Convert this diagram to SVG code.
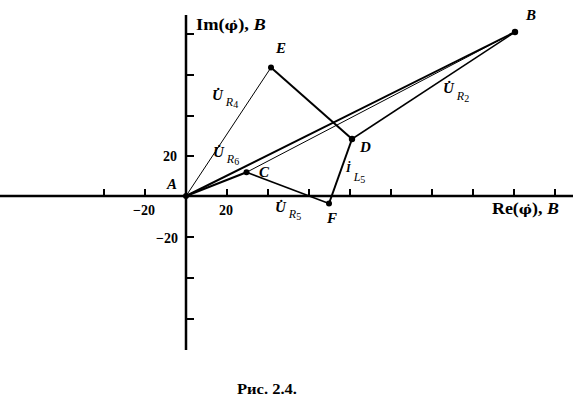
<svg xmlns="http://www.w3.org/2000/svg" width="573" height="412" viewBox="0 0 573 412">
<style>
.t{font-family:"Liberation Serif","Times New Roman",serif;font-weight:bold;fill:#000}
.i{font-style:italic}
.sub{font-size:12px;font-style:italic;font-weight:normal}
.phi{font-family:"DejaVu Serif",serif;font-size:13px}
.ax{stroke:#000;stroke-width:2.5;fill:none}
.tk{stroke:#000;stroke-width:2;fill:none}
.thick{stroke:#000;stroke-width:2;fill:none}
.mid{stroke:#000;stroke-width:1.5;fill:none}
.thin{stroke:#000;stroke-width:1;fill:none}
.dot{fill:#000}
</style>
<rect width="573" height="412" fill="#fff"/>
<g id="axes">
<line class="ax" x1="0" y1="196" x2="573" y2="196"/>
<line class="ax" x1="186" y1="15" x2="186" y2="350"/>
<path class="tk" d="M104 196V189M145 196V189M227 196V189M268 196V189M309 196V189M350 196V189M391 196V189M432 196V189M473 196V189M514 196V189M555 196V189"/>
<path class="tk" d="M186 34H194M186 75H194M186 116H194M186 156H194M186 237H194M186 278H194M186 319H194"/>
<text class="t" transform="translate(196,30) scale(1.15,1)" x="0" y="0" font-size="16">Im(<tspan class="phi">φ̇</tspan>), <tspan class="i">B</tspan></text>
<text class="t" transform="translate(492,214) scale(1.12,1)" x="0" y="0" font-size="16">Re(<tspan class="phi">φ̇</tspan>), <tspan class="i">B</tspan></text>
<text class="t" x="177" y="161" font-size="14" text-anchor="end">20</text>
<text class="t" x="178" y="243" font-size="14" text-anchor="end">−20</text>
<text class="t" x="226" y="215" font-size="14" text-anchor="middle">20</text>
<text class="t" x="144" y="215" font-size="14" text-anchor="middle">−20</text>
</g>
<g id="connectors">
<line class="thin" x1="186" y1="196" x2="271" y2="67.5"/>
<line class="thick" x1="271" y1="67.5" x2="352" y2="139"/>
<line class="mid" x1="352" y1="139" x2="515" y2="32"/>
<line class="thick" x1="186" y1="196" x2="515" y2="32"/>
<line class="thin" x1="246.5" y1="172.3" x2="515" y2="32"/>
<line class="thick" x1="186" y1="196" x2="246.5" y2="172.3"/>
<line class="mid" x1="246.5" y1="172.3" x2="329" y2="203.5"/>
<line class="thick" x1="329" y1="203.5" x2="352" y2="139"/>
</g>
<g id="node-A"><circle class="dot" cx="186" cy="196" r="3"/><text class="t i" x="167" y="189" font-size="15">A</text></g>
<g id="node-B"><circle class="dot" cx="515" cy="32" r="3.2"/><text class="t i" x="526" y="20" font-size="15">B</text></g>
<g id="node-C"><circle class="dot" cx="246.5" cy="172.3" r="3"/><text class="t i" x="259" y="177" font-size="15">C</text></g>
<g id="node-D"><circle class="dot" cx="352" cy="139" r="3.2"/><text class="t i" x="360" y="152" font-size="15">D</text></g>
<g id="node-E"><circle class="dot" cx="271" cy="67.5" r="3"/><text class="t i" x="276" y="53" font-size="15">E</text></g>
<g id="node-F"><circle class="dot" cx="329" cy="203.5" r="3"/><text class="t i" x="327" y="223" font-size="15">F</text></g>
<g id="labels">
<text class="t i" x="212" y="100" font-size="15">U̇<tspan class="sub" dx="3" dy="6">R</tspan><tspan font-size="10" font-style="normal" font-weight="normal" dy="2">4</tspan></text>
<text class="t i" x="213" y="157" font-size="15">U̇<tspan class="sub" dx="3" dy="6">R</tspan><tspan font-size="10" font-style="normal" font-weight="normal" dy="2">6</tspan></text>
<text class="t i" x="275" y="212" font-size="15">U̇<tspan class="sub" dx="3" dy="6">R</tspan><tspan font-size="10" font-style="normal" font-weight="normal" dy="2">5</tspan></text>
<text class="t i" x="443" y="93" font-size="15">U̇<tspan class="sub" dx="3" dy="7">R</tspan><tspan font-size="10" font-style="normal" font-weight="normal" dy="2">2</tspan></text>
<text class="t i" x="346" y="172" font-size="12" font-weight="normal">İ<tspan class="sub" dx="3" dy="9">L</tspan><tspan font-size="10" font-style="normal" font-weight="normal" dy="2">5</tspan></text>
</g>
<text class="t" x="267" y="394" font-size="15" text-anchor="middle" textLength="60" lengthAdjust="spacingAndGlyphs">Рис. 2.4.</text>
</svg>
